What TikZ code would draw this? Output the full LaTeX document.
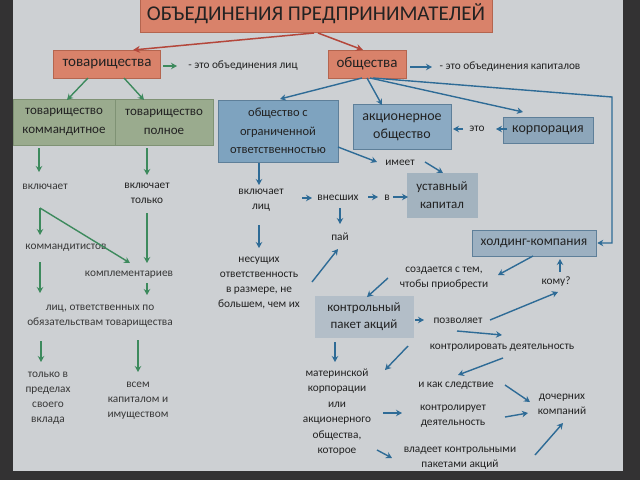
\documentclass[tikz,border=0pt]{standalone}
\usepackage{fontspec}
\setmainfont{Carlito}
\usetikzlibrary{arrows.meta,calc}
\definecolor{scr}{HTML}{CDD0D3}
\definecolor{frm}{HTML}{333233}
\definecolor{orng}{HTML}{D9826A}
\definecolor{orngd}{HTML}{B4654F}
\definecolor{grn}{HTML}{9AAB8E}
\definecolor{grnd}{HTML}{7F9274}
\definecolor{bluA}{HTML}{7EA3BF}
\definecolor{bluB}{HTML}{8BAAC3}
\definecolor{bluC}{HTML}{8DA6BA}
\definecolor{bluD}{HTML}{A3B3BF}
\definecolor{bluE}{HTML}{9CB0C1}
\definecolor{bluF}{HTML}{B3BEC8}
\definecolor{blud}{HTML}{5E7F99}
\definecolor{txt}{HTML}{222222}
\definecolor{txtl}{HTML}{383838}
\definecolor{ared}{HTML}{B4473B}
\definecolor{agrn}{HTML}{3D8A5D}
\definecolor{ablu}{HTML}{2E6B96}
\tikzset{
  box/.style={rectangle, inner sep=0pt, align=center, text=txt, line width=0.6pt},
  obox/.style={box, fill=orng, draw=orngd},
  gbox/.style={box, fill=grn, draw=grnd, font=\fontsize{13}{19}\selectfont},
  bbox/.style={box, draw=blud},
  lbl/.style={inner sep=1pt, align=center, text=txt, font=\fontsize{11.3}{15}\selectfont},
  lbll/.style={lbl, text=txtl},
  ra/.style={draw=ared, line width=1.5pt, -{Stealth[length=7pt,width=7pt]}},
  ga/.style={draw=agrn, line width=1.4pt, -{Stealth[length=6pt,width=6.5pt]}},
  ba/.style={draw=ablu, line width=1.4pt, -{Stealth[length=6pt,width=6.5pt]}}
}
\begin{document}
\begin{tikzpicture}[x=1pt,y=-1pt]
\useasboundingbox (0,0) rectangle (640,480);
\fill[frm] (0,0) rectangle (640,480);
\fill[scr] (13,0) rectangle (623,471);
% boxes
\node[obox, minimum width=352, minimum height=36, font=\fontsize{21}{24}\selectfont] (title) at (316,14) {ОБЪЕДИНЕНИЯ ПРЕДПРИНИМАТЕЛЕЙ};
\node[obox, minimum width=107, minimum height=28, font=\fontsize{15}{18}\selectfont] (tov) at (107,64) {товарищества};
\node[obox, minimum width=78, minimum height=28, font=\fontsize{15}{18}\selectfont] (obsh) at (367,64) {общества};
\node[gbox, minimum width=102, minimum height=46] (tovk) at (64,122) {товарищество\\коммандитное};
\node[gbox, minimum width=98, minimum height=46] (tovp) at (164,122) {товарищество\\полное};
\node[bbox, fill=bluA, minimum width=120, minimum height=62, font=\fontsize{12.5}{18.5}\selectfont] (ooo) at (278,131) {общество с\\ограниченной\\ответственностью};
\node[bbox, fill=bluB, minimum width=98, minimum height=45, font=\fontsize{14}{18}\selectfont] (ao) at (402,127) {акционерное\\общество};
\node[bbox, fill=bluC, minimum width=90, minimum height=26, font=\fontsize{14}{17}\selectfont] (korp) at (548,130) {корпорация};
\node[bbox, fill=bluD, draw=bluD, minimum width=70, minimum height=44, font=\fontsize{13}{18}\selectfont] (ust) at (442,195) {уставный\\капитал};
\node[bbox, fill=bluE, minimum width=124, minimum height=26, font=\fontsize{13.5}{17}\selectfont] (hold) at (534,243) {холдинг-компания};
\node[bbox, fill=bluF, draw=bluF, minimum width=98, minimum height=41, font=\fontsize{13}{17}\selectfont] (kp) at (364,317) {контрольный\\пакет акций};
% labels
\node[lbl] (etolic) at (243,66) {- это объединения лиц};
\node[lbl] (etokap) at (510,67) {- это объединения капиталов};
\node[lbll] (vkl1) at (45,187) {включает};
\node[lbl] (vkl2) at (147,193) {включает\\только};
\node[lbll] (komman) at (66,248) {коммандитистов};
\node[lbll] (kompl) at (129,275) {комплементариев};
\node[lbll] (lic) at (100,316) {лиц, ответственных по\\обязательствам товарищества};
\node[lbll] (tolko) at (48,398) {только в\\пределах\\своего\\вклада};
\node[lbll] (vsem) at (138,401) {всем\\капиталом и\\имуществом};
\node[lbl] (eto) at (477,129) {это};
\node[lbl] (imeet) at (400,163) {имеет};
\node[lbl] (vkllic) at (261,200) {включает\\лиц};
\node[lbl] (vnes) at (338,198) {внесших};
\node[lbl] (v) at (387,198) {в};
\node[lbl] (pai) at (340,237) {пай};
\node[lbl] (nesu) at (259,283) {несущих\\ответственность\\в размере, не\\большем, чем их};
\node[lbl] (sozd) at (444,278) {создается с тем,\\чтобы приобрести};
\node[lbl] (komu) at (556,282) {кому?};
\node[lbl] (pozv) at (458,321) {позволяет};
\node[lbl] (kontr) at (502,348) {контролировать деятельность};
\node[lbl, font=\fontsize{11.3}{15.5}\selectfont] (mater) at (337,412) {материнской\\корпорации\\или\\акционерного\\общества,\\которое};
\node[lbl] (ikak) at (456,386) {и как следствие};
\node[lbl] (kontrd) at (453,416) {контролирует\\деятельность};
\node[lbl] (doch) at (562,404) {дочерних\\компаний};
\node[lbl] (vlad) at (460,458) {владеет контрольными\\пакетами акций};
% red arrows
\draw[ra] ($(title)+(-2,19)$) -- ($(tov)+(26,-14)$);
\draw[ra] ($(title)+(2,19)$) -- ($(obsh)+(-4,-14)$);
% green arrows
\draw[ga] ($(tov)+(-19,14)$) -- ($(tovk)+(3,-22)$);
\draw[ga] ($(tov)+(17,14)$) -- ($(tovp)+(-20,-22)$);
\draw[ga] ($(tov)+(56,2)$) -- ($(etolic)+(-66,0)$);
\draw[ga] ($(tovk)+(-25,26)$) -- ($(vkl1)+(-6,-15)$);
\draw[ga] ($(tovp)+(-17,26)$) -- ($(vkl2)+(0,-18)$);
\draw[ga] ($(vkl1)+(-5,21)$) -- ($(komman)+(-26,-13)$);
\draw[ga] ($(vkl1)+(-5,21)$) -- ($(kompl)+(1,-12)$);
\draw[ga] ($(vkl2)+(0,20)$) -- ($(kompl)+(18,-12)$);
\draw[ga] ($(komman)+(-26,14)$) -- ($(lic)+(-60,-23)$);
\draw[ga] ($(kompl)+(18,8)$) -- ($(lic)+(47,-21)$);
\draw[ga] ($(lic)+(-59,25)$) -- ($(tolko)+(-7,-36)$);
\draw[ga] ($(lic)+(38,24)$) -- ($(vsem)+(0,-29)$);
% blue arrows
\draw[ba] ($(obsh)+(-5,14)$) -- ($(ooo)+(2,-32)$);
\draw[ba] ($(obsh)+(0,14)$) -- ($(ao)+(-20,-22)$);
\draw[ba] ($(obsh)+(3,14)$) -- ($(korp)+(-25,-18)$);
\draw[ba] ($(obsh)+(6,14)$) -- ++(239,19) |- ($(hold.east)+(1,0)$);
\draw[ba] ($(obsh)+(43,3)$) -- ($(etokap)+(-78,0)$);
\draw[ba] ($(korp)+(-41,-1)$) -- ($(eto)+(19,0)$);
\draw[ba] ($(eto)+(-14,0)$) -- ($(ao)+(51,2)$);
\draw[ba] ($(ooo)+(60,16)$) -- ($(imeet)+(-23,-1)$);
\draw[ba] ($(imeet)+(25,-1)$) -- ($(ust)+(1,-22)$);
\draw[ba] ($(ooo)+(-19,32)$) -- ($(vkllic)+(-2,-15)$);
\draw[ba] ($(vkllic)+(41,-2)$) -- ($(vnes)+(-26,0)$);
\draw[ba] ($(vnes)+(30,-1)$) -- ($(v)+(-9,-1)$);
\draw[ba] ($(v)+(6,-1)$) -- ($(ust)+(-34,2)$);
\draw[ba] ($(vnes)+(2,10)$) -- ($(pai)+(0,-13)$);
\draw[ba] ($(vkllic)+(-2,25)$) -- ($(nesu)+(0,-35)$);
\draw[ba] ($(nesu)+(53,-1)$) -- ($(pai)+(-2,12)$);
\draw[ba] ($(hold)+(-1,13)$) -- ($(sozd)+(54,-3)$);
\draw[ba] ($(komu)+(4,-10)$) -- ($(hold)+(26,16)$);
\draw[ba] ($(sozd)+(-56,0)$) -- ($(kp)+(3,-20)$);
\draw[ba] ($(kp)+(51,3)$) -- ($(pozv)+(-34,-1)$);
\draw[ba] ($(pozv)+(32,-1)$) -- ($(komu)+(2,10)$);
\draw[ba] ($(pozv)+(-1,10)$) -- ($(kontr)+(0,-13)$);
\draw[ba] ($(kontr)+(1,10)$) -- ($(ikak)+(2,-11)$);
\draw[ba] ($(kontr)+(-94,-2)$) -- ($(mater)+(48,-42)$);
\draw[ba] ($(kp)+(-29,25)$) -- ($(mater)+(-2,-50)$);
\draw[ba] ($(mater)+(46,1)$) -- ($(kontrd)+(-51,-3)$);
\draw[ba] ($(ikak)+(49,-1)$) -- ($(doch)+(-32,-2)$);
\draw[ba] ($(kontrd)+(52,1)$) -- ($(doch)+(-34,9)$);
\draw[ba] ($(mater)+(40,38)$) -- ($(vlad)+(-68,0)$);
\draw[ba] ($(vlad)+(75,-3)$) -- ($(doch)+(1,19)$);
\end{tikzpicture}
\end{document}
